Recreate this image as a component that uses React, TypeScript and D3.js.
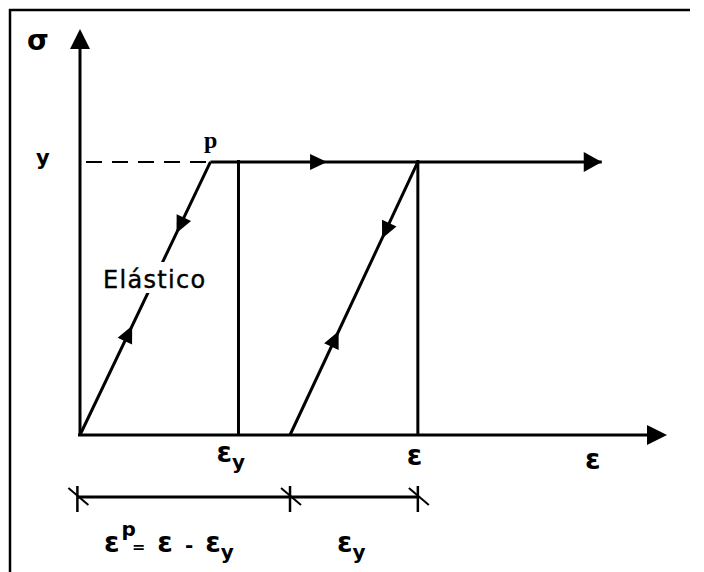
import React, { useEffect, useRef } from 'react';
import * as d3 from 'd3';

// Strain in sketch units (yield strain of the elastic branch = 1), stress normalised to yield = 1
const elasticBranch = [{ e: 0, s: 0 }, { e: 1.0, s: 1 }];
const plateauBranch = [{ e: 1.0, s: 1 }, { e: 4.0, s: 1 }];
const unloadBranch = [{ e: 2.59, s: 1 }, { e: 1.61, s: 0 }];
const strainMarks = [1.215, 2.59];          // vertical lines at εy and ε
const dimensionTicks = [-0.02, 1.61, 2.59]; // 0, εp, ε
const axisEnds = { e: 4.5, s: 1.487 };
// arrow tips on the branches: fraction of the branch height (or strain on the plateau)
const branchArrows = [
  { at: 0.74, dir: 'down', branch: 'elastic' },
  { at: 0.40, dir: 'up', branch: 'elastic' },
  { at: 1.894, dir: 'right', branch: 'plateau' },
  { at: 0.72, dir: 'down', branch: 'unload' },
  { at: 0.38, dir: 'up', branch: 'unload' },
];
const axisLabels = { stress: 'σ', yieldStress: 'y', yieldPoint: 'p', strain: 'ε' };

function App() {
  const ref = useRef<SVGSVGElement>(null);

  useEffect(() => {
    document.body.style.margin = '0';
    document.body.style.overflow = 'hidden';
    const svg = d3.select(ref.current);
    svg.selectAll('*').remove();

    const x = d3.scaleLinear().domain([0, axisEnds.e]).range([80, 667]);
    const y = d3.scaleLinear().domain([0, axisEnds.s]).range([435, 29]);
    const line = d3.line<{ e: number; s: number }>().x(d => x(d.e)).y(d => y(d.s));

    svg.append('rect').attr('width', 704).attr('height', 572).attr('fill', '#fff');

    // frame (open to the right and bottom)
    svg.append('line').attr('x1', 10).attr('x2', 10).attr('y1', 9).attr('y2', 572)
      .attr('stroke', '#000').attr('stroke-width', 2.5);
    svg.append('line').attr('x1', 9).attr('x2', 690).attr('y1', 10).attr('y2', 10)
      .attr('stroke', '#000').attr('stroke-width', 2.5);

    const tri = (tx: number, ty: number, angle: number, len: number, half: number) => {
      const pts: [number, number][] = [[0, 0], [-len, -half], [-len, half]];
      return svg.append('path')
        .attr('d', d3.line()(pts) + 'Z')
        .attr('transform', `translate(${tx},${ty}) rotate(${angle})`)
        .attr('fill', '#000');
    };

    // axes
    svg.append('line').attr('x1', x(0)).attr('x2', x(0)).attr('y1', y(0) + 1).attr('y2', y(axisEnds.s) + 10)
      .attr('stroke', '#000').attr('stroke-width', 3);
    tri(x(0), y(axisEnds.s), -90, 20, 10);
    svg.append('line').attr('x1', x(0) - 2).attr('x2', x(axisEnds.e) - 10).attr('y1', y(0)).attr('y2', y(0))
      .attr('stroke', '#000').attr('stroke-width', 3);
    tri(x(axisEnds.e), y(0), 0, 20, 10);

    // dashed yield line
    svg.append('line').attr('x1', x(0)).attr('x2', x(elasticBranch[1].e)).attr('y1', y(1)).attr('y2', y(1))
      .attr('stroke', '#000').attr('stroke-width', 2).attr('stroke-dasharray', '16,10')
      .attr('stroke-dashoffset', -6);

    // vertical strain marks
    strainMarks.forEach(v => {
      svg.append('line').attr('x1', x(v)).attr('x2', x(v)).attr('y1', y(1) - 2).attr('y2', y(0))
        .attr('stroke', '#000').attr('stroke-width', 3);
    });

    // branches
    [elasticBranch, plateauBranch, unloadBranch].forEach(b => {
      svg.append('path').attr('d', line(b)).attr('fill', 'none')
        .attr('stroke', '#000').attr('stroke-width', 3);
    });
    tri(x(plateauBranch[1].e), y(1), 0, 18, 10);

    // arrows along the branches
    const branches: Record<string, { e: number; s: number }[]> = {
      elastic: elasticBranch, plateau: plateauBranch, unload: unloadBranch,
    };
    branchArrows.forEach(a => {
      const b = branches[a.branch];
      let tx: number, ty: number, ang: number;
      if (a.branch === 'plateau') {
        tx = x(a.at); ty = y(1); ang = 0;
      } else {
        const lo = b[0].s <= b[1].s ? b[0] : b[1];
        const hi = b[0].s <= b[1].s ? b[1] : b[0];
        tx = x(lo.e + (hi.e - lo.e) * a.at);
        ty = y(lo.s + (hi.s - lo.s) * a.at);
        const up = Math.atan2(y(hi.s) - y(lo.s), x(hi.e) - x(lo.e)) * 180 / Math.PI;
        ang = a.dir === 'up' ? up : up + 180;
      }
      tri(tx, ty, ang, 17, 8);
    });

    // Elástico label with white backing that breaks the branch
    svg.append('rect').attr('x', 100).attr('y', 262).attr('width', 112).attr('height', 31).attr('fill', '#fff');
    svg.append('text').attr('x', 103).attr('y', 288).attr('font-family', 'DejaVu Sans')
      .attr('font-size', 24).attr('letter-spacing', 1.3).attr('stroke', '#000').attr('stroke-width', 0.4)
      .text('Elástico');

    const font = 'DejaVu Sans';
    const label = (tx: number, ty: number, txt: string, size: number, weight = 'bold', fam = font) =>
      svg.append('text').attr('x', tx).attr('y', ty).attr('font-family', fam)
        .attr('font-size', size).attr('font-weight', weight).text(txt);

    label(27, 50, axisLabels.stress, 28);
    label(36, 165, axisLabels.yieldStress, 21);
    label(204, 148, axisLabels.yieldPoint, 24, 'bold', 'Liberation Serif');

    const epsSub = (tx: number, ty: number) => {
      const t = svg.append('text').attr('x', tx).attr('y', ty).attr('font-family', font)
        .attr('font-weight', 'bold').attr('font-size', 28);
      t.append('tspan').text(axisLabels.strain);
      t.append('tspan').attr('dy', 7).attr('dx', 0).attr('font-size', 20).text('y');
    };
    epsSub(x(strainMarks[0]) - 22, 462);
    label(x(strainMarks[1]) - 11, 465, axisLabels.strain, 28);
    label(585, 469, axisLabels.strain, 28);

    // dimension line
    const dimY = 497;
    svg.append('line').attr('x1', x(dimensionTicks[0])).attr('x2', x(dimensionTicks[2])).attr('y1', dimY).attr('y2', dimY)
      .attr('stroke', '#000').attr('stroke-width', 3);
    dimensionTicks.forEach(v => {
      const cx = x(v);
      svg.append('line').attr('x1', cx).attr('x2', cx).attr('y1', dimY - 11).attr('y2', dimY + 15)
        .attr('stroke', '#000').attr('stroke-width', 2.5);
      svg.append('line').attr('x1', cx - 9).attr('x2', cx + 11).attr('y1', dimY - 9).attr('y2', dimY + 8)
        .attr('stroke', '#000').attr('stroke-width', 2);
    });

    // formula labels
    const f = svg.append('text').attr('x', 104).attr('y', 552).attr('font-family', font)
      .attr('font-weight', 'bold').attr('font-size', 28);
    f.append('tspan').text('ε');
    f.append('tspan').attr('dy', -16).attr('dx', 2).attr('font-size', 20).text('p');
    f.append('tspan').attr('dy', 16).attr('dx', -4).attr('font-size', 16).text('=');
    f.append('tspan').attr('dx', 12).text('ε');
    f.append('tspan').attr('dx', 12).attr('font-size', 20).text('-');
    f.append('tspan').attr('dx', 12).text('ε');
    f.append('tspan').attr('dy', 7).attr('font-size', 20).text('y');
    epsSub(337, 552);
  }, []);

  return (
    <div style={{ position: 'absolute', left: 0, top: 0 }}>
      <svg ref={ref} width={704} height={572} style={{ display: 'block' }} />
    </div>
  );
}

export default App;
